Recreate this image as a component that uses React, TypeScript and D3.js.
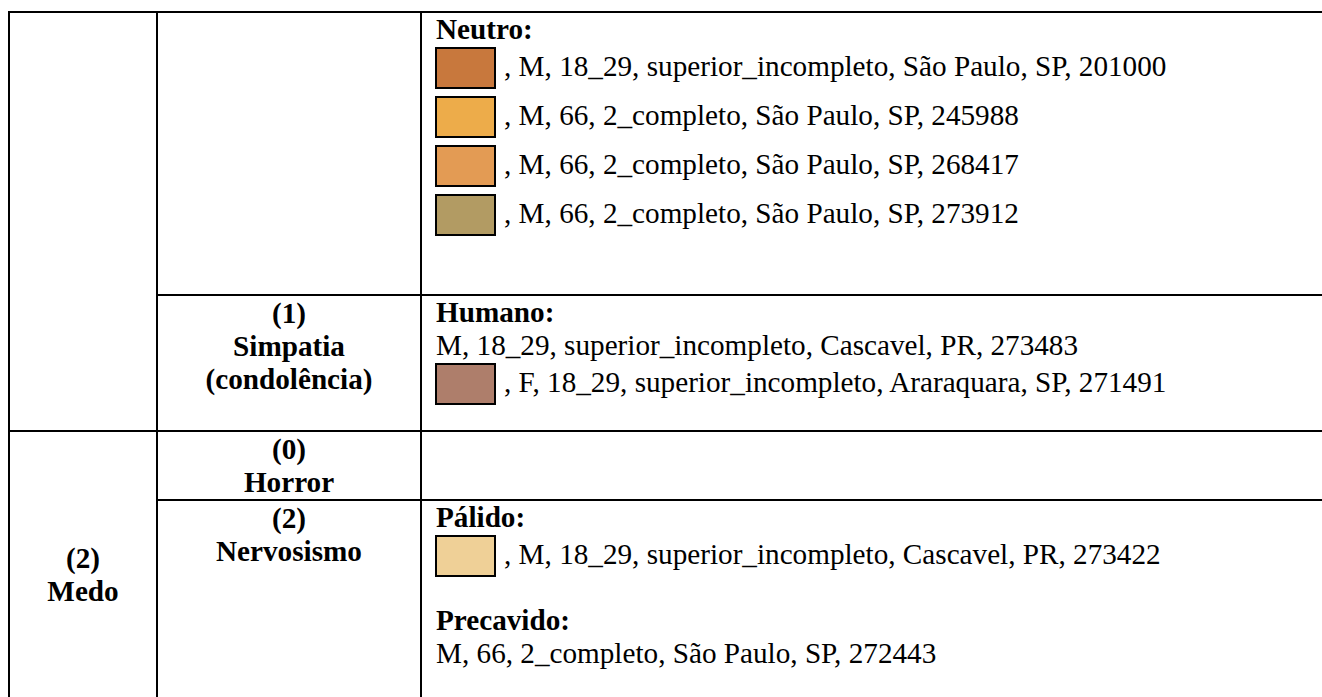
import * as d3 from "d3";
import React from "react";

// 1st column: primary emotion (rows it spans)
const primaryLabels: string[][] = [[], ["(2)", "Medo"]];
const primarySpans: [number, number][] = [
  [0, 1],
  [2, 3],
];

// 2nd column: secondary emotion per row
const secondaryLabels: string[][] = [
  [],
  ["(1)", "Simpatia", "(condolência)"],
  ["(0)", "Horror"],
  ["(2)", "Nervosismo"],
];

// 3rd column: descriptors with colour samples
interface Line {
  color: string | null;
  text: string;
}
interface Block {
  title: string;
  lines: Line[];
}

const neutroBlock: Block = {
  title: "Neutro:",
  lines: [
    { color: "#C8783D", text: ", M, 18_29, superior_incompleto, São Paulo, SP, 201000" },
    { color: "#EDAC4A", text: ", M, 66, 2_completo, São Paulo, SP, 245988" },
    { color: "#E39B54", text: ", M, 66, 2_completo, São Paulo, SP, 268417" },
    { color: "#B29B63", text: ", M, 66, 2_completo, São Paulo, SP, 273912" },
  ],
};
const humanoBlock: Block = {
  title: "Humano:",
  lines: [
    { color: null, text: "M, 18_29, superior_incompleto, Cascavel, PR, 273483" },
    { color: "#AE7E6B", text: ", F, 18_29, superior_incompleto, Araraquara, SP, 271491" },
  ],
};
const palidoBlock: Block = {
  title: "Pálido:",
  lines: [{ color: "#EFD097", text: ", M, 18_29, superior_incompleto, Cascavel, PR, 273422" }],
};
const precavidoBlock: Block = {
  title: "Precavido:",
  lines: [{ color: null, text: "M, 66, 2_completo, São Paulo, SP, 272443" }],
};

const descriptorRows: Block[][] = [[neutroBlock], [humanoBlock], [], [palidoBlock, precavidoBlock]];

export default function App() {
  const ref = React.useRef<SVGSVGElement>(null);

  React.useEffect(() => {
    if (!ref.current) return;
    const W = 1322;
    const H = 697;
    const svg = d3.select(ref.current);
    svg.selectAll("*").remove();

    // geometria da tabela
    const colX = [9, 157, 421, W + 20];
    const rowY = [12, 295, 431, 500, H + 60];
    const fs = 29.2;
    const lh = 33;
    const font = "'Liberation Serif', 'Times New Roman', serif";

    const g = svg.append("g");

    // bordas
    const lines: [number, number, number, number][] = [];
    lines.push([colX[0] - 1, rowY[0], colX[3], rowY[0]]);
    lines.push([colX[1], rowY[1], colX[3], rowY[1]]);
    lines.push([colX[0], rowY[2], colX[3], rowY[2]]);
    lines.push([colX[1], rowY[3], colX[3], rowY[3]]);
    [0, 1, 2].forEach((i) => lines.push([colX[i], rowY[0] - 1, colX[i], rowY[4]]));

    g.selectAll("line.border")
      .data(lines)
      .enter()
      .append("line")
      .attr("x1", (d) => d[0])
      .attr("y1", (d) => d[1])
      .attr("x2", (d) => d[2])
      .attr("y2", (d) => d[3])
      .attr("stroke", "#000")
      .attr("stroke-width", 2);

    // coluna 1 (centrada verticalmente na célula mesclada)
    primaryLabels.forEach((lab, i) => {
      if (!lab.length) return;
      const [r0] = primarySpans[i];
      const cx = (colX[0] + colX[1]) / 2;
      const cy = rowY[r0] + 153;
      g.selectAll(null)
        .data(lab)
        .enter()
        .append("text")
        .attr("x", cx)
        .attr("y", (_, k) => cy + (k - (lab.length - 1) / 2) * lh)
        .attr("text-anchor", "middle")
        .attr("font-family", font)
        .attr("font-size", fs)
        .attr("font-weight", "bold")
        .text((d) => d);
    });

    // coluna 2
    secondaryLabels.forEach((lab, r) => {
      const cx = (colX[1] + colX[2]) / 2;
      g.selectAll(null)
        .data(lab)
        .enter()
        .append("text")
        .attr("x", cx)
        .attr("y", (_, k) => rowY[r] + 27.5 + k * lh)
        .attr("text-anchor", "middle")
        .attr("font-family", font)
        .attr("font-size", fs)
        .attr("font-weight", "bold")
        .text((d) => d);
    });

    // coluna 3
    const x0 = colX[2] + 15;
    const swW = 59;
    const swH = 40;
    const swPitch = 49;
    descriptorRows.forEach((blocks, r) => {
      let base = rowY[r] + 27;
      blocks.forEach((b, bi) => {
        if (bi > 0) base += lh * 2;
        g.append("text")
          .attr("x", x0)
          .attr("y", base)
          .attr("font-family", font)
          .attr("font-size", fs)
          .attr("font-weight", "bold")
          .text(b.title);
        let prevTop: number | null = null;
        b.lines.forEach((ln) => {
          if (ln.color) {
            const top: number = prevTop !== null ? prevTop + swPitch : base + 9;
            g.append("rect")
              .attr("x", x0)
              .attr("y", top)
              .attr("width", swW)
              .attr("height", swH)
              .attr("fill", ln.color)
              .attr("stroke", "#000")
              .attr("stroke-width", 2);
            base = top + 28;
            g.append("text")
              .attr("x", x0 + swW + 9)
              .attr("y", base)
              .attr("font-family", font)
              .attr("font-size", fs)
              .text(ln.text);
            prevTop = top;
          } else {
            base += lh;
            prevTop = null;
            g.append("text")
              .attr("x", x0)
              .attr("y", base)
              .attr("font-family", font)
              .attr("font-size", fs)
              .text(ln.text);
          }
        });
      });
    });
  }, []);

  return (
    <div style={{ position: "absolute", left: 0, top: 0, width: 1322, height: 697, background: "#fff" }}>
      <svg ref={ref} width={1322} height={697} style={{ display: "block" }} />
    </div>
  );
}
